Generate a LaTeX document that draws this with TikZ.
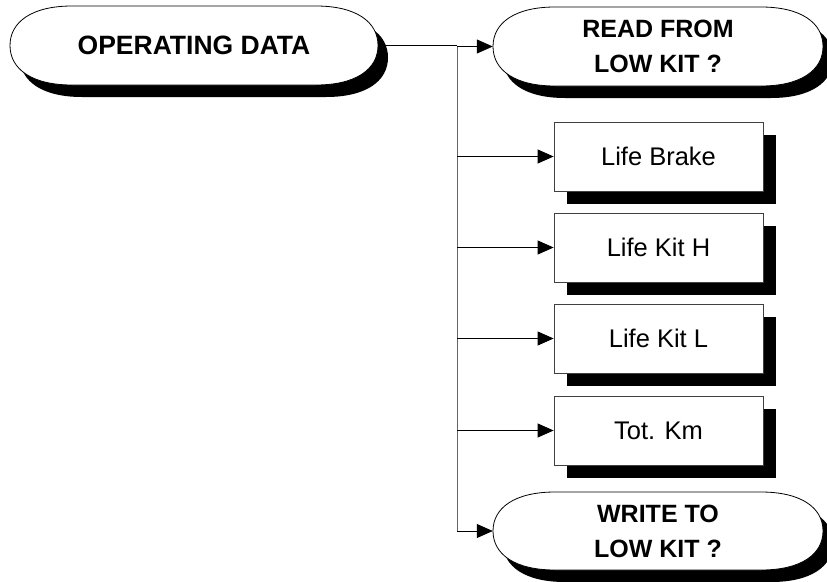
\documentclass[tikz,border=0pt]{standalone}
\usepackage{fontspec}
\setmainfont{Liberation Sans}
\usetikzlibrary{arrows.meta,shadows,backgrounds}
\newcommand{\pillpath}[5]{% #1 options, #2 x1, #3 x2, #4 ytop, #5 ybot (px, y down)
  \path[#1] ({#2},{-(#4+#5)/2})
    .. controls ({#2},{-#4-0.2*(#5-#4)}) and ({#2+22},{-#4}) .. ({#2+62},{-#4})
    -- ({#3-62},{-#4})
    .. controls ({#3-22},{-#4}) and ({#3},{-#4-0.2*(#5-#4)}) .. ({#3},{-(#4+#5)/2})
    .. controls ({#3},{-#5+0.2*(#5-#4)}) and ({#3-22},{-#5}) .. ({#3-62},{-#5})
    -- ({#2+62},{-#5})
    .. controls ({#2+22},{-#5}) and ({#2},{-#5+0.2*(#5-#4)}) .. cycle;}
\begin{document}
\begin{tikzpicture}[x=1pt,y=1pt,
  pilltext/.style={draw=none,inner sep=0pt,align=center,
    font=\fontsize{25}{35}\selectfont\bfseries},
  pillshade/.style={fill=black,draw=none},
  pillbody/.style={fill=white,draw=black,line width=0.8pt},
  kitbox/.style={draw=black!75,fill=white,line width=0.8pt,inner sep=0pt,
    minimum width=209pt,minimum height=69pt,
    font=\fontsize{25.5}{30}\selectfont,
    drop shadow={shadow xshift=13pt,shadow yshift=-13pt,opacity=1,fill=black}},
  conn/.style={draw=black!60,line width=0.8pt},
  link/.style={draw=black,line width=0.8pt},
  arr/.style={link,-{Triangle[length=16pt,width=14pt,fill=black]}}]
\useasboundingbox (0,0) rectangle (827,-581);

% pill nodes
\node[pilltext,minimum width=368pt,minimum height=79pt,font=\fontsize{26.5}{35}\selectfont\bfseries] (op) at (194,-45.5) {OPERATING DATA};
\node[pilltext,minimum width=330pt,minimum height=79pt] (rd) at (658,-46.5) {READ FROM\\LOW KIT ?};
\node[pilltext,minimum width=330pt,minimum height=78pt] (wr) at (658,-531) {WRITE TO\\LOW KIT ?};

\begin{scope}[on background layer]
  \begin{scope}[shift={(10,-12)}]
    \pillpath{pillshade}{10}{378}{6}{85}
    \pillpath{pillshade}{493}{823}{7}{86}
    \pillpath{pillshade}{493}{823}{492}{570}
  \end{scope}
  \pillpath{pillbody}{10}{378}{6}{85}
  \pillpath{pillbody}{493}{823}{7}{86}
  \pillpath{pillbody}{493}{823}{492}{570}
\end{scope}

% boxes
\node[kitbox] (lb) at (658.5,-156.5) {Life Brake};
\node[kitbox] (lh) at (658.5,-247.5) {Life Kit H};
\node[kitbox] (ll) at (658.5,-338.5) {Life Kit L};
\node[kitbox] (tk) at (658.5,-430.5) {Tot. Km};

% connectors
\coordinate (bus) at (457,-45.5);
\coordinate (busend) at (wr.west -| bus);
\draw[conn] (bus) -- (busend);
\draw[link] (op.east) -- (bus);
\draw[arr] (rd.west -| bus) -- (rd.west);
\draw[arr] (lb.west -| bus) -- (lb.west);
\draw[arr] (lh.west -| bus) -- (lh.west);
\draw[arr] (ll.west -| bus) -- (ll.west);
\draw[arr] (tk.west -| bus) -- (tk.west);
\draw[arr] (busend) -- (wr.west);
\end{tikzpicture}
\end{document}
